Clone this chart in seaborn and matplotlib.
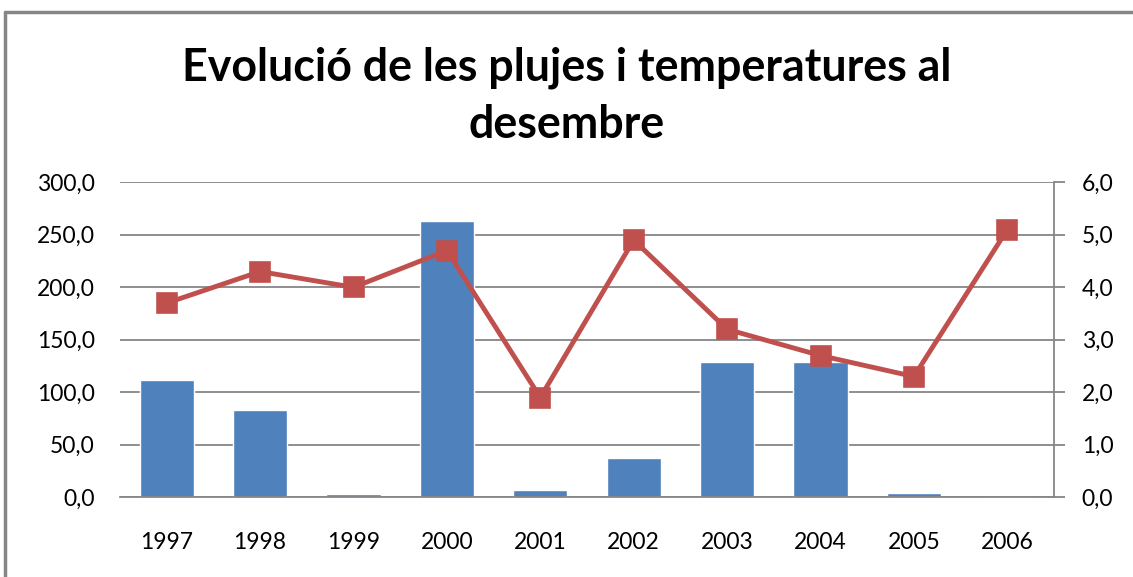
import matplotlib
matplotlib.use("Agg")
import matplotlib.pyplot as plt
import seaborn as sns
import pandas as pd
from matplotlib.lines import Line2D
from matplotlib.ticker import FuncFormatter

# Data
years = ["1997", "1998", "1999", "2000", "2001", "2002", "2003", "2004", "2005", "2006"]
pluja = [112.0, 83.0, 3.5, 263.0, 7.0, 37.5, 129.0, 129.0, 4.0, 0.0]
temperatura = [3.7, 4.3, 4.0, 4.7, 1.9, 4.9, 3.2, 2.7, 2.3, 5.1]

df = pd.DataFrame({"any": years, "pluja": pluja, "temp": temperatura})

sns.set_theme(style="white")
plt.rcParams['font.family'] = ['Lato', 'DejaVu Sans']
plt.rcParams['text.color'] = 'black'

blue = "#4F81BD"
red = "#C0504D"
grid = "#868686"

fig = plt.figure(figsize=(11.33, 5.77), dpi=100)
ax = fig.add_axes([120 / 1133, 1 - 497.3 / 577, 934 / 1133, 315 / 577])

sns.barplot(data=df, x="any", y="pluja", color=blue, width=0.58, saturation=1, ax=ax)
ax.set_ylim(0, 300)
ax.set_yticks([0, 50, 100, 150, 200, 250, 300])
ax.yaxis.set_major_formatter(FuncFormatter(lambda v, p: f"{v:.1f}".replace(".", ",")))
ax.yaxis.grid(True, color=grid, linewidth=1.3)
ax.set_axisbelow(True)
ax.set_xlabel("")
ax.set_ylabel("")
for s in ["left", "top", "right"]:
    ax.spines[s].set_visible(False)
ax.spines["bottom"].set_color(grid)
ax.spines["bottom"].set_linewidth(1.3)
ax.tick_params(axis="y", length=0, pad=18, labelsize=16.5, colors="black")
ax.tick_params(axis="x", length=0, pad=25, labelsize=16.5, colors="black")

ax2 = ax.twinx()
sns.pointplot(data=df, x="any", y="temp", color=red, markers="s", markersize=13,
              linewidth=3.5, ax=ax2)
ax2.set_ylim(0, 6)
ax2.set_yticks([0, 1, 2, 3, 4, 5, 6])
ax2.yaxis.set_major_formatter(FuncFormatter(lambda v, p: f"{v:.1f}".replace(".", ",")))
ax2.set_ylabel("")
ax2.set_xlim(-0.5, 9.5)
ax.set_xlim(-0.5, 9.5)
for s in ["left", "top", "bottom"]:
    ax2.spines[s].set_visible(False)
ax2.spines["right"].set_color(grid)
ax2.spines["right"].set_linewidth(1.3)
ax2.tick_params(axis="y", length=8, width=1.3, color=grid, pad=12, labelsize=16.5, labelcolor="black")

t1 = fig.text(0.5, 1 - 68 / 577, "Evolució de les plujes i temperatures al", ha="center", va="center",
              fontsize=30, fontweight="bold", color="black")
t2 = fig.text(0.5, 1 - 125 / 577, "desembre", ha="center", va="center",
              fontsize=30, fontweight="bold", color="black")

# fit the first title line to the width seen in the reference (~770 px)
r = fig.canvas.get_renderer()
w = t1.get_window_extent(r).width
fs = 30 * 770 / w
t1.set_fontsize(fs)
t2.set_fontsize(fs)

# outer chart frame (only top and left edges are visible in the crop)
fig.add_artist(Line2D([5 / 1133, 5 / 1133], [0, 1 - 12 / 577], transform=fig.transFigure, color=grid, linewidth=2.5))
fig.add_artist(Line2D([5 / 1133, 1], [1 - 12 / 577, 1 - 12 / 577], transform=fig.transFigure, color=grid, linewidth=2.5))

fig.savefig("out.png", dpi=100)
